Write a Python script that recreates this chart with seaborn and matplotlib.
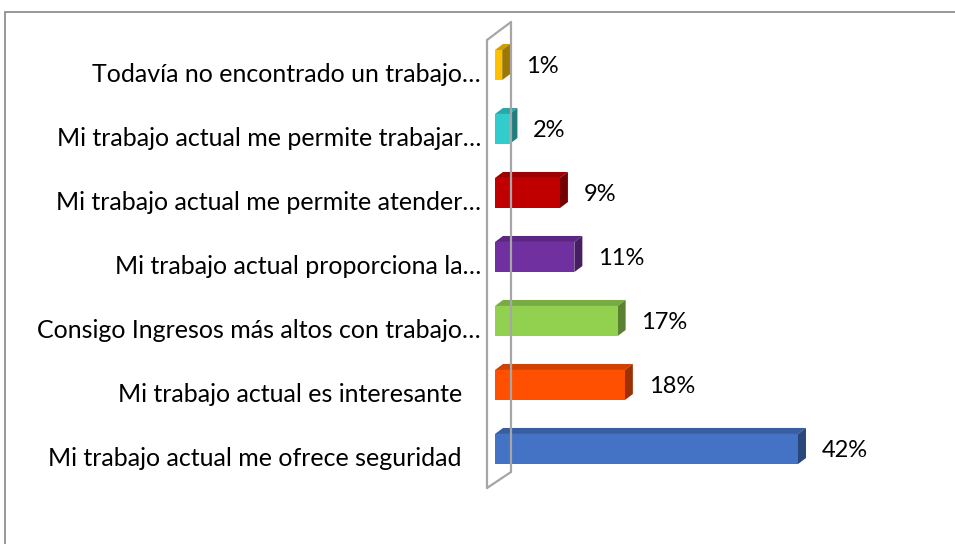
import pandas as pd
import matplotlib.pyplot as plt
import seaborn as sns
from matplotlib.patches import Polygon, Rectangle
from matplotlib.lines import Line2D
from matplotlib.transforms import ScaledTranslation
import matplotlib.colors as mcolors

sns.set_style("white")
plt.rcParams["font.family"] = ["Lato", "DejaVu Sans"]

# data, listed top to bottom as in the chart
categories = [
    "Todavía no encontrado un trabajo…",
    "Mi trabajo actual me permite trabajar…",
    "Mi trabajo actual me permite atender…",
    "Mi trabajo actual proporciona la…",
    "Consigo Ingresos más altos con trabajo…",
    "Mi trabajo actual es interesante   ",
    "Mi trabajo actual me ofrece seguridad   ",
]
values = [1, 2, 9, 11, 17, 18, 42]
labels = ["1%", "2%", "9%", "11%", "17%", "18%", "42%"]
colors = ["#FFC000", "#33CCCC", "#C00000", "#7030A0", "#92D050", "#FF4F00", "#4472C4"]

df = pd.DataFrame({"cat": categories, "val": values})

W, H = 955, 544
fig = plt.figure(figsize=(W / 100, H / 100), dpi=100)
ax = fig.add_axes([495 / W, 1 - 481 / H, 445 / W, 448 / H])

sns.barplot(data=df, x="val", y="cat", hue="cat", palette=colors, legend=False,
            width=0.47, saturation=1, ax=ax, linewidth=0)
xmax = 445 / 7.214
ax.set_xlim(0, xmax)
ax.set_ylim(6.5, -0.5)

# fake 3d depth, in data units
dx = 8 / 7.214
dy = 6 / 64.0


def darker(c, f):
    r, g, b = mcolors.to_rgb(c)
    return (r * f, g * f, b * f)


for p, c in zip(ax.patches, colors):
    x0, y0 = p.get_x(), p.get_y()
    w, h = p.get_width(), p.get_height()
    x1 = x0 + w
    top = y0  # inverted axis: smaller y is higher
    ax.add_patch(Polygon([(x0, top), (x1, top), (x1 + dx, top - dy), (x0 + dx, top - dy)],
                         closed=True, facecolor=darker(c, 0.82), edgecolor="none", zorder=3))
    ax.add_patch(Polygon([(x1, top), (x1 + dx, top - dy), (x1 + dx, top + h - dy), (x1, top + h)],
                         closed=True, facecolor=darker(c, 0.62), edgecolor="none", zorder=3))
    p.set_zorder(4)

for i, (v, t) in enumerate(zip(values, labels)):
    ax.text(v + dx + 2.2, i + 0.03, t, va="center", ha="left", fontsize=17, color="#000000")

ax.set_xlabel("")
ax.set_ylabel("")
ax.set_xticks([])
ax.tick_params(axis="y", length=0, pad=10, labelsize=18, labelcolor="#000000")
# category labels sit a little below the bar centres
shift = ScaledTranslation(0, -0.07, fig.dpi_scale_trans)
for lab in ax.get_yticklabels():
    lab.set_transform(lab.get_transform() + shift)
for s in ax.spines.values():
    s.set_visible(False)

# the wall of the category axis
gray = "#A6A6A6"
wall = [((487, 40), (487, 488)), ((511, 22), (511, 472)), ((487, 40), (511, 22)), ((487, 488), (511, 472))]
for (xa, ya), (xb, yb) in wall:
    fig.add_artist(Line2D([xa / W, xb / W], [1 - ya / H, 1 - yb / H], color=gray, lw=1.6, zorder=1))

# outer chart frame
fig.add_artist(Rectangle((5 / W, -0.1), 1.2, 1.1 - 12 / H, fill=False, edgecolor="#868686", lw=1.2))

fig.savefig("out.png", dpi=100)
